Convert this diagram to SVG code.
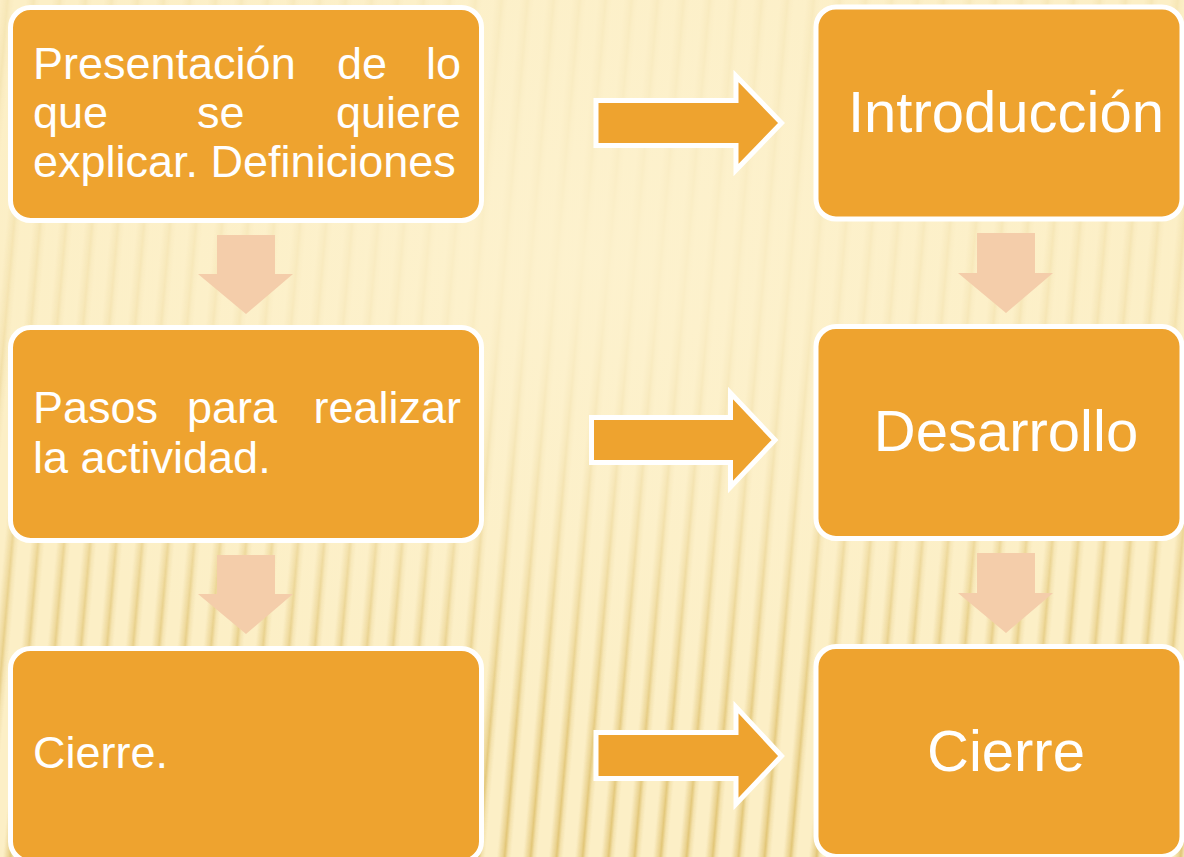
<svg xmlns="http://www.w3.org/2000/svg" width="1184" height="857" viewBox="0 0 1184 857">
  <defs>
    <linearGradient id="stripeGrad" x1="0" y1="0" x2="1" y2="0">
      <stop offset="0" stop-color="#E6CC84" stop-opacity="0"/>
      <stop offset="0.4" stop-color="#E6CC84" stop-opacity="0.8"/>
      <stop offset="0.55" stop-color="#E0C474" stop-opacity="1"/>
      <stop offset="0.75" stop-color="#E6CC84" stop-opacity="0.4"/>
      <stop offset="1" stop-color="#E6CC84" stop-opacity="0"/>
    </linearGradient>
    <pattern id="stripes" patternUnits="userSpaceOnUse" width="26" height="857" patternTransform="skewX(-5)">
      <rect x="0" y="0" width="14" height="857" fill="url(#stripeGrad)"/>
    </pattern>
    <linearGradient id="fadeV" x1="0" y1="0" x2="0" y2="1">
      <stop offset="0" stop-color="#fff" stop-opacity="0.2"/>
      <stop offset="0.35" stop-color="#fff" stop-opacity="0.3"/>
      <stop offset="0.7" stop-color="#fff" stop-opacity="0.7"/>
      <stop offset="1" stop-color="#fff" stop-opacity="1"/>
    </linearGradient>
    <mask id="fadeMask">
      <rect x="0" y="0" width="1184" height="857" fill="url(#fadeV)"/>
    </mask>
    <radialGradient id="glow" cx="0.5" cy="0.3" r="0.55">
      <stop offset="0" stop-color="#FDF2CF" stop-opacity="0.85"/>
      <stop offset="1" stop-color="#FDF2CF" stop-opacity="0"/>
    </radialGradient>
  </defs>
  <style>
    .box { fill: #EEA32F; stroke: #FFFFFF; stroke-width: 5; }
    .rarrow { fill: #EEA32F; stroke: #FFFFFF; stroke-width: 5; stroke-linejoin: miter; }
    .darrow { fill: #F4CDAA; }
    .lt { font-family: "Liberation Sans", Arial, sans-serif; font-size: 45px; fill: #FFFFFF; }
    .rt { font-family: "Liberation Sans", Arial, sans-serif; font-size: 58px; fill: #FFFFFF; text-anchor: middle; }
  </style>

  <g id="background">
    <rect x="0" y="0" width="1184" height="857" fill="#FCEFC6"/>
    <rect x="-100" y="0" width="1384" height="857" fill="url(#stripes)" mask="url(#fadeMask)"/>
    <rect x="0" y="0" width="1184" height="857" fill="url(#glow)"/>
  </g>

  <g id="connectors">
    <path class="rarrow" d="M596,100.5 H736 V76 L781.5,123 L736,170 V145.5 H596 Z"/>
    <path class="rarrow" d="M591.5,417.5 H730.5 V393 L775,440 L730.5,487 V462.5 H591.5 Z"/>
    <path class="rarrow" d="M596,732.5 H736 V707 L781.5,756 L736,804 V778.5 H596 Z"/>
    <path class="darrow" d="M217,235 H275 V274 H293 L246,314 L198,274 H217 Z"/>
    <path class="darrow" d="M217,555 H275 V594 H293 L246,634 L198,594 H217 Z"/>
    <path class="darrow" d="M977,233 H1035 V273 H1053 L1006,313 L958,273 H977 Z"/>
    <path class="darrow" d="M977,553 H1035 V593 H1053 L1006,633 L958,593 H977 Z"/>
  </g>

  <g id="node-presentacion">
    <rect class="box" x="10.5" y="7.5" width="471" height="213" rx="20"/>
    <text class="lt" x="33" y="79">Presentación</text>
    <text class="lt" x="337" y="79">de</text>
    <text class="lt" x="461" y="79" text-anchor="end">lo</text>
    <text class="lt" x="33" y="128">que</text>
    <text class="lt" x="197" y="128">se</text>
    <text class="lt" x="461" y="128" text-anchor="end">quiere</text>
    <text class="lt" x="33" y="177">explicar. Definiciones</text>
  </g>

  <g id="node-pasos">
    <rect class="box" x="10.5" y="327.5" width="471" height="213" rx="20"/>
    <text class="lt" x="33" y="423">Pasos</text>
    <text class="lt" x="187" y="423">para</text>
    <text class="lt" x="461" y="423" text-anchor="end">realizar</text>
    <text class="lt" x="33" y="473">la actividad.</text>
  </g>

  <g id="node-cierre-left">
    <rect class="box" x="10.5" y="648.5" width="471" height="213" rx="20"/>
    <text class="lt" x="33" y="768">Cierre.</text>
  </g>

  <g id="node-introduccion">
    <rect class="box" x="816" y="7" width="366" height="212" rx="20"/>
    <text class="rt" x="1006" y="132">Introducción</text>
  </g>

  <g id="node-desarrollo">
    <rect class="box" x="816" y="326.5" width="366" height="212" rx="20"/>
    <text class="rt" x="1006" y="451">Desarrollo</text>
  </g>

  <g id="node-cierre-right">
    <rect class="box" x="816" y="646.5" width="366" height="210" rx="20"/>
    <text class="rt" x="1006" y="771">Cierre</text>
  </g>
</svg>
